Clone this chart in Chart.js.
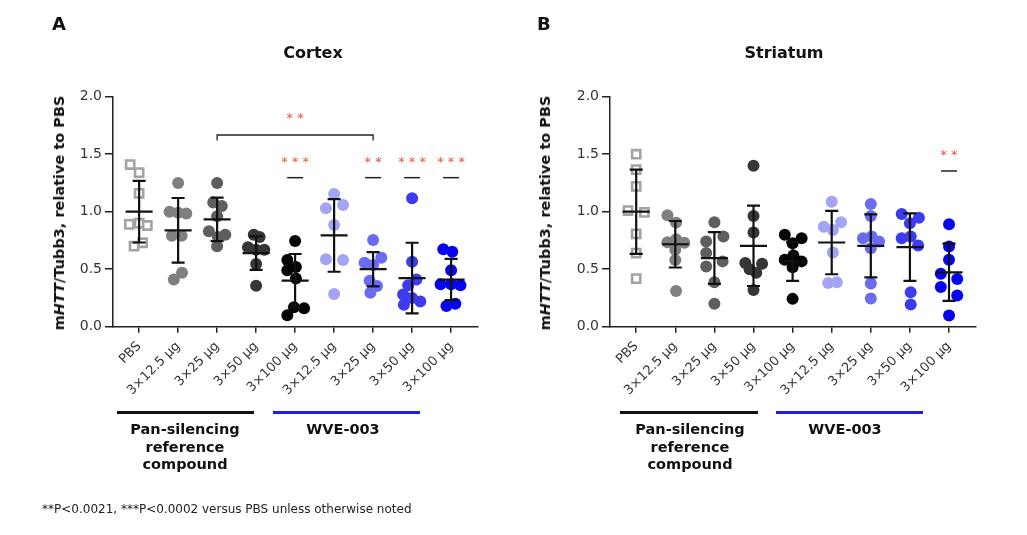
<!DOCTYPE html>
<html>
<head>
<meta charset="utf-8">
<script src="https://cdn.jsdelivr.net/npm/chart.js@4.4.1/dist/chart.umd.min.js"></script>
<style>
body { margin: 0; background: #fff; width: 1027px; height: 535px; position: relative; overflow: hidden;
       font-family: "DejaVu Sans", Verdana, sans-serif; color: #111; }
canvas { position: absolute; top: 0; }
.t { position: absolute; white-space: nowrap; }
.letter { font-weight: bold; font-size: 18px; top: 13px; }
.title { font-weight: bold; font-size: 16px; top: 43px; transform: translateX(-50%); }
.ytitle { font-weight: bold; font-size: 14.5px; top: 213px; transform: translate(-50%, -50%) rotate(-90deg); }
.group { font-weight: bold; font-size: 14.5px; line-height: 17.5px; text-align: center; top: 421px; transform: translateX(-50%); }
.bar { position: absolute; top: 411px; height: 3px; }
.note { font-size: 12px; left: 42px; top: 502px; color: #222; }
</style>
</head>
<body>
<canvas id="cortexCanvas" width="513" height="535" style="left:0"></canvas>
<canvas id="striatumCanvas" width="513" height="535" style="left:497px"></canvas>

<div class="t letter" style="left:52px">A</div>
<div class="t letter" style="left:537px">B</div>
<div class="t title" style="left:313px">Cortex</div>
<div class="t title" style="left:784px">Striatum</div>
<div class="t ytitle" style="left:59px">m<i>HTT</i>/Tubb3, relative to PBS</div>
<div class="t ytitle" style="left:545px">m<i>HTT</i>/Tubb3, relative to PBS</div>

<div class="bar" style="left:117px;width:137px;background:#111"></div>
<div class="bar" style="left:273px;width:147px;background:#1f1fe6"></div>
<div class="t group" style="left:185px">Pan-silencing<br>reference<br>compound</div>
<div class="t group" style="left:343px">WVE-003</div>

<div class="bar" style="left:620px;width:138px;background:#111"></div>
<div class="bar" style="left:776px;width:147px;background:#1f1fe6"></div>
<div class="t group" style="left:690px">Pan-silencing<br>reference<br>compound</div>
<div class="t group" style="left:845px">WVE-003</div>

<div class="t note">**P&lt;0.0021, ***P&lt;0.0002 versus PBS unless otherwise noted</div>

<script>
// categories (same for both panels)
const categories = ['PBS', '3×12.5 µg', '3×25 µg', '3×50 µg', '3×100 µg',
                    '3×12.5 µg', '3×25 µg', '3×50 µg', '3×100 µg'];
const groupColors = ['#a3a3a3', '#7f7f7f', '#5e5e5e', '#363636', '#050505',
                     '#a4a4f4', '#6b6bf1', '#3b3bef', '#0505f0'];
const yTicks = [0, 0.5, 1.0, 1.5, 2.0];

// Cortex: individual animals, horizontal jitter, mean and SD
const cortexValues = [
  [1.41, 1.34, 1.16, 0.89, 0.90, 0.88, 0.70, 0.73],
  [1.25, 1.00, 0.99, 0.985, 0.79, 0.79, 0.47, 0.41],
  [1.25, 1.08, 1.05, 0.96, 0.83, 0.80, 0.78, 0.70],
  [0.80, 0.78, 0.69, 0.67, 0.67, 0.545, 0.356],
  [0.745, 0.58, 0.52, 0.49, 0.42, 0.17, 0.16, 0.10],
  [1.154, 1.03, 1.058, 0.884, 0.586, 0.58, 0.284],
  [0.754, 0.556, 0.536, 0.60, 0.40, 0.354, 0.296],
  [1.117, 0.565, 0.41, 0.36, 0.28, 0.25, 0.22, 0.19],
  [0.673, 0.652, 0.49, 0.37, 0.37, 0.36, 0.18, 0.20]
];
const cortexJitter = [
  [-0.23, 0, 0, -0.25, 0, 0.21, -0.13, 0.09],
  [0, -0.22, 0, 0.21, -0.16, 0.09, 0.1, -0.11],
  [0, -0.1, 0.12, 0, -0.21, 0.21, 0.02, 0],
  [-0.06, 0.09, -0.21, 0.21, 0, 0, 0],
  [0, -0.2, 0.02, -0.2, 0.02, -0.03, 0.23, -0.2],
  [0, -0.21, 0.23, 0, -0.21, 0.23, 0],
  [0, -0.22, 0, 0.21, -0.09, 0.1, -0.07],
  [0, 0, 0.11, -0.1, -0.23, 0, 0.21, -0.21],
  [-0.2, 0.03, 0, -0.27, 0, 0.24, -0.12, 0.11]
];
const cortexMean = [1.0, 0.838, 0.933, 0.64, 0.40, 0.794, 0.50, 0.423, 0.41];
const cortexSD = [0.268, 0.281, 0.189, 0.145, 0.232, 0.316, 0.149, 0.307, 0.179];
const cortexStarCats = [4, 6, 7, 8];
const cortexStarLabels = ['***', '**', '***', '***'];
const cortexBracket = [2, 6];   // 3×25 µg reference vs 3×25 µg WVE-003
const cortexBracketLabel = '**';

// Striatum
const striatumValues = [
  [1.50, 1.366, 1.22, 1.01, 0.994, 0.807, 0.64, 0.418],
  [0.97, 0.905, 0.735, 0.76, 0.73, 0.67, 0.58, 0.31],
  [0.908, 0.74, 0.784, 0.64, 0.524, 0.568, 0.386, 0.199],
  [1.40, 0.963, 0.82, 0.553, 0.548, 0.50, 0.47, 0.32],
  [0.80, 0.77, 0.726, 0.582, 0.62, 0.568, 0.516, 0.242],
  [1.086, 0.87, 0.84, 0.908, 0.645, 0.38, 0.386],
  [1.066, 0.963, 0.77, 0.784, 0.74, 0.683, 0.375, 0.245],
  [0.98, 0.90, 0.948, 0.77, 0.784, 0.706, 0.30, 0.193],
  [0.89, 0.697, 0.582, 0.461, 0.415, 0.346, 0.271, 0.098]
];
const striatumJitter = [
  [0, 0, 0, -0.21, 0.21, 0, 0, 0],
  [-0.2, 0.02, -0.2, 0.02, 0.23, 0, 0, 0.02],
  [0, -0.21, 0.23, -0.21, -0.21, 0.21, 0, 0],
  [0, 0, 0, -0.21, 0.22, -0.1, 0.07, 0],
  [-0.2, 0.23, 0, -0.2, 0.02, 0.23, 0, 0],
  [0, -0.2, 0.03, 0.24, 0.03, -0.09, 0.13],
  [0, 0, -0.2, 0.02, 0.21, 0, 0, 0],
  [-0.21, 0, 0.23, -0.21, 0.02, 0.21, 0.02, 0.02],
  [0, 0, 0, -0.21, 0.21, -0.21, 0.21, 0]
];
const striatumMean = [1.0, 0.717, 0.597, 0.703, 0.568, 0.732, 0.703, 0.692, 0.473];
const striatumSD = [0.366, 0.202, 0.225, 0.349, 0.17, 0.276, 0.274, 0.293, 0.249];
const striatumStarCats = [8];
const striatumStarLabels = ['**'];

const starY = { cortex: 1.43, striatum: 1.484 };
const starLineY = { cortex: 1.296, striatum: 1.354 };
const bracketY = 1.667, bracketDrop = 1.62, bracketLabelY = 1.806;

const FONT = '"DejaVu Sans", Verdana, sans-serif';

// mean ± SD bars and significance marks, drawn through the chart's scales
function markPlugin(mean, sd, starCats, starLabels, sY, lY, bracket, bracketLabel) {
  return {
    id: 'marks',
    afterDatasetsDraw(chart) {
      const ctx = chart.ctx, xs = chart.scales.x, ys = chart.scales.y;
      ctx.save();
      ctx.strokeStyle = '#111';
      ctx.lineWidth = 2.2;
      mean.forEach((m, i) => {
        const x = xs.getPixelForValue(i);
        const yt = ys.getPixelForValue(m + sd[i]);
        const yb = ys.getPixelForValue(m - sd[i]);
        const ym = ys.getPixelForValue(m);
        ctx.beginPath();
        ctx.moveTo(x, yt); ctx.lineTo(x, yb);
        ctx.moveTo(x - 6.5, yt); ctx.lineTo(x + 6.5, yt);
        ctx.moveTo(x - 6.5, yb); ctx.lineTo(x + 6.5, yb);
        ctx.moveTo(x - 13.5, ym); ctx.lineTo(x + 13.5, ym);
        ctx.stroke();
      });
      ctx.lineWidth = 1.5;
      ctx.strokeStyle = '#222';
      ctx.fillStyle = '#e4553f';
      ctx.font = '13px ' + FONT;
      ctx.textAlign = 'center';
      ctx.textBaseline = 'middle';
      starCats.forEach((c, k) => {
        const x = xs.getPixelForValue(c);
        const y = ys.getPixelForValue(lY);
        ctx.beginPath();
        ctx.moveTo(x - 8, y); ctx.lineTo(x + 8, y);
        ctx.stroke();
        ctx.fillText(starLabels[k].split('').join(' '), x, ys.getPixelForValue(sY));
      });
      if (bracket) {
        const x1 = xs.getPixelForValue(bracket[0]), x2 = xs.getPixelForValue(bracket[1]);
        const y = ys.getPixelForValue(bracketY), yd = ys.getPixelForValue(bracketDrop);
        ctx.lineWidth = 1.3;
        ctx.beginPath();
        ctx.moveTo(x1, yd); ctx.lineTo(x1, y); ctx.lineTo(x2, y); ctx.lineTo(x2, yd);
        ctx.stroke();
        ctx.fillText(bracketLabel.split('').join(' '), (x1 + x2) / 2, ys.getPixelForValue(bracketLabelY));
      }
      ctx.restore();
    }
  };
}

function makeChart(canvasId, values, jitter, plugin, padRight) {
  const datasets = values.map((vals, i) => ({
    data: vals.map((v, j) => ({ x: i + jitter[i][j], y: v })),
    pointStyle: i === 0 ? 'rect' : 'circle',
    pointRadius: i === 0 ? 5.8 : 6,
    pointHoverRadius: i === 0 ? 5.8 : 6,
    pointBorderWidth: i === 0 ? 2.6 : 0,
    pointBorderColor: groupColors[i],
    pointBackgroundColor: i === 0 ? '#ffffff' : groupColors[i],
    clip: false
  }));
  return new Chart(document.getElementById(canvasId), {
    type: 'scatter',
    data: { datasets },
    plugins: [plugin],
    options: {
      responsive: false,
      animation: false,
      layout: { padding: { top: 96.7, right: padRight, left: 0, bottom: 0 } },
      plugins: { legend: { display: false }, tooltip: { enabled: false } },
      scales: {
        x: {
          type: 'linear',
          min: -0.67,
          max: 8.69,
          afterBuildTicks: s => { s.ticks = categories.map((c, i) => ({ value: i })); },
          afterFit: s => { s.height = 535 - 326.7; },
          ticks: {
            callback: v => categories[v],
            minRotation: 45, maxRotation: 45,
            color: '#333', padding: 6,
            font: { family: FONT, size: 13 }
          },
          grid: { drawOnChartArea: false, drawTicks: true, tickLength: 6, color: '#222', lineWidth: 1.5 },
          border: { display: true, color: '#222', width: 1.5 }
        },
        y: {
          min: 0, max: 2,
          afterBuildTicks: s => { s.ticks = yTicks.map(v => ({ value: v })); },
          afterFit: s => { s.width = 113; },
          ticks: {
            callback: v => v.toFixed(1),
            color: '#333', padding: 3,
            font: { family: FONT, size: 14 }
          },
          grid: { drawOnChartArea: false, drawTicks: true, tickLength: 8, color: '#222', lineWidth: 1.5 },
          border: { display: true, color: '#222', width: 1.5 }
        }
      }
    }
  });
}

makeChart('cortexCanvas', cortexValues, cortexJitter,
  markPlugin(cortexMean, cortexSD, cortexStarCats, cortexStarLabels,
             starY.cortex, starLineY.cortex, cortexBracket, cortexBracketLabel), 35);
makeChart('striatumCanvas', striatumValues, striatumJitter,
  markPlugin(striatumMean, striatumSD, striatumStarCats, striatumStarLabels,
             starY.striatum, starLineY.striatum, null, null), 34);
</script>
</body>
</html>
